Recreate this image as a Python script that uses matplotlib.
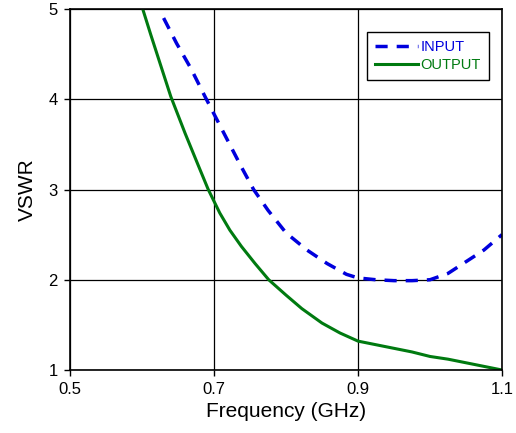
import matplotlib
matplotlib.use("Agg")
import matplotlib.pyplot as plt

freq_out = [0.601, 0.612, 0.627, 0.640, 0.660, 0.678, 0.692, 0.708, 0.722, 0.738, 0.757, 0.776,
            0.80, 0.822, 0.85, 0.875, 0.90, 0.925, 0.95, 0.975, 1.00, 1.025, 1.05, 1.075, 1.10]
vswr_out = [5.0, 4.72, 4.35, 4.03, 3.62, 3.27, 3.0, 2.74, 2.55, 2.37, 2.18, 2.0,
            1.83, 1.68, 1.52, 1.41, 1.32, 1.28, 1.24, 1.20, 1.15, 1.12, 1.08, 1.04, 1.0]

freq_in = [0.63, 0.648, 0.668, 0.6875, 0.714, 0.738, 0.755, 0.775, 0.80, 0.829, 0.857, 0.884,
           0.90, 0.925, 0.95, 0.975, 1.00, 1.025, 1.05, 1.075, 1.10]
vswr_in = [4.9, 4.62, 4.34, 4.03, 3.62, 3.25, 3.0, 2.77, 2.52, 2.33, 2.18, 2.06,
           2.02, 2.0, 1.99, 1.99, 2.0, 2.07, 2.2, 2.33, 2.5]

xticks = [0.5, 0.7, 0.9, 1.1]
xticklabels = ["0.5", "0.7", "0.9", "1.1"]
yticks = [1, 2, 3, 4, 5]

plt.rcParams['font.family'] = ['Liberation Sans', 'DejaVu Sans']

fig = plt.figure(figsize=(5.16, 4.33), dpi=100)
ax = fig.add_axes([70/516, 1-370/433, 432/516, 361/433])

ax.plot(freq_in, vswr_in, color='#0000dd', lw=2.5, dashes=(3.5, 2.6), label='INPUT')
ax.plot(freq_out, vswr_out, color='#007a10', lw=2.2, label='OUTPUT')

ax.set_xlim(0.5, 1.1)
ax.set_ylim(1, 5)
ax.set_xticks(xticks)
ax.set_xticklabels(xticklabels)
ax.set_yticks(yticks)
ax.grid(True, color='black', lw=0.9)
ax.set_axisbelow(True)
for s in ax.spines.values():
    s.set_linewidth(1.2)
ax.tick_params(direction='out', length=4, width=1, labelsize=12, pad=5)
ax.set_xlabel('Frequency (GHz)', fontsize=15, labelpad=3)
ax.set_ylabel('VSWR', fontsize=15, labelpad=8)

leg = ax.legend(loc='upper right', bbox_to_anchor=(0.97, 0.936), fontsize=10.5,
                frameon=True, fancybox=False, framealpha=1, edgecolor='black',
                handlelength=3.0, handletextpad=0.15, borderpad=0.55, labelspacing=0.25,
                borderaxespad=0)
leg.get_frame().set_linewidth(1.0)
for t, c in zip(leg.get_texts(), ['#0000dd', '#007a10']):
    t.set_color(c)

fig.savefig('out.png', dpi=100)
